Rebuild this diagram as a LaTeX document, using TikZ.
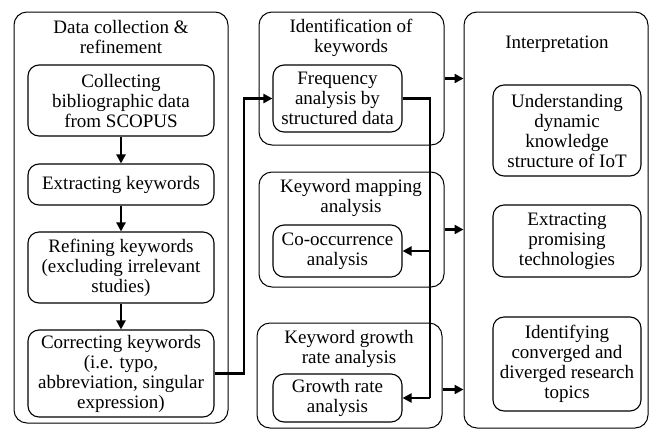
\documentclass[tikz,border=0pt]{standalone}
\usepackage{fontspec}
\setmainfont{Liberation Serif}
\usetikzlibrary{arrows.meta}
\begin{document}
\begin{tikzpicture}[x=1pt,y=-1pt,
  outerbox/.style={draw,line width=1pt,rounded corners=13pt,inner sep=0pt},
  innerbox/.style={draw,line width=1.1pt,rounded corners=11pt,align=center,inner sep=0pt,font=\fontsize{19}{20}\selectfont},
  ttl/.style={align=center,font=\fontsize{19}{20}\selectfont,inner sep=0pt},
  conn/.style={line width=2.4pt},
  arr/.style={line width=2.4pt,-{Triangle[length=9pt,width=9pt]}}]
\useasboundingbox (0,0) rectangle (650,429);
% outer containers
\node[outerbox,minimum width=214pt,minimum height=411pt] (L) at (121,217.5) {};
\node[outerbox,minimum width=185pt,minimum height=133pt] (M1) at (351.5,78.5) {};
\node[outerbox,minimum width=185pt,minimum height=115pt] (M2) at (351.5,229.5) {};
\node[outerbox,minimum width=185pt,minimum height=105pt] (M3) at (349.5,375.5) {};
\node[outerbox,minimum width=184pt,minimum height=416pt] (R) at (556,220) {};
% titles
\node[ttl] (tL) at (121,37) {Data collection \&\\refinement};
\node[ttl] (tM1) at (351,38) {Identification of\\keywords};
\node[ttl] (tM2) at (351,198) {Keyword mapping\\analysis};
\node[ttl] (tM3) at (349,349) {Keyword growth\\rate analysis};
\node[ttl] (tR) at (557,44) {Interpretation};
% left inner
\node[innerbox,minimum width=186pt,minimum height=71pt] (a1) at (121,100.5) {Collecting\\bibliographic data\\from SCOPUS};
\node[innerbox,minimum width=186pt,minimum height=41pt] (a2) at (121,184.5) {Extracting keywords};
\node[innerbox,minimum width=186pt,minimum height=71pt] (a3) at (121,267.5) {Refining keywords\\(excluding irrelevant\\studies)};
\node[innerbox,minimum width=186pt,minimum height=87pt] (a4) at (121,373.5) {Correcting keywords\\(i.e. typo,\\abbreviation, singular\\expression)};
% middle inner
\node[innerbox,minimum width=129pt,minimum height=67pt] (b1) at (337.5,98.5) {Frequency\\analysis by\\structured data};
\node[innerbox,minimum width=129pt,minimum height=52pt] (b2) at (337.5,251) {Co-occurrence\\analysis};
\node[innerbox,minimum width=129pt,minimum height=48pt] (b3) at (337.5,398) {Growth rate\\analysis};
% right inner
\node[innerbox,minimum width=148pt,minimum height=91pt] (c1) at (567,130.5) {Understanding\\dynamic\\knowledge\\structure of IoT};
\node[innerbox,minimum width=148pt,minimum height=72pt] (c2) at (567,241) {Extracting\\promising\\technologies};
\node[innerbox,minimum width=148pt,minimum height=94pt] (c3) at (567,364) {Identifying\\converged and\\diverged research\\topics};
% left arrows
\draw[arr] (a1) -- (a2);
\draw[arr] (a2) -- (a3);
\draw[arr] (a3) -- (a4);
% cross connectors
\coordinate (k1) at (244,373.5);
\coordinate (k2) at (244,98.5);
\draw[arr] (a4.east) -- (k1) -- (k2) -- (b1.west);
\coordinate (j1) at (430,98.5);
\coordinate (j2) at (430,251);
\coordinate (j3) at (430,398);
\draw[conn] (b1.east) -- (j1) -- (j3);
\draw[arr] (j2) -- (b2.east);
\draw[arr] (j3) -- (b3.east);
% to interpretation
\draw[arr] (M1.east) -- (M1.east -| R.west);
\draw[arr] (M2.east) -- (M2.east -| R.west);
\draw[arr] ([yshift=-14pt]M3.east) -- ([yshift=-14pt]M3.east -| R.west);
\end{tikzpicture}
\end{document}
